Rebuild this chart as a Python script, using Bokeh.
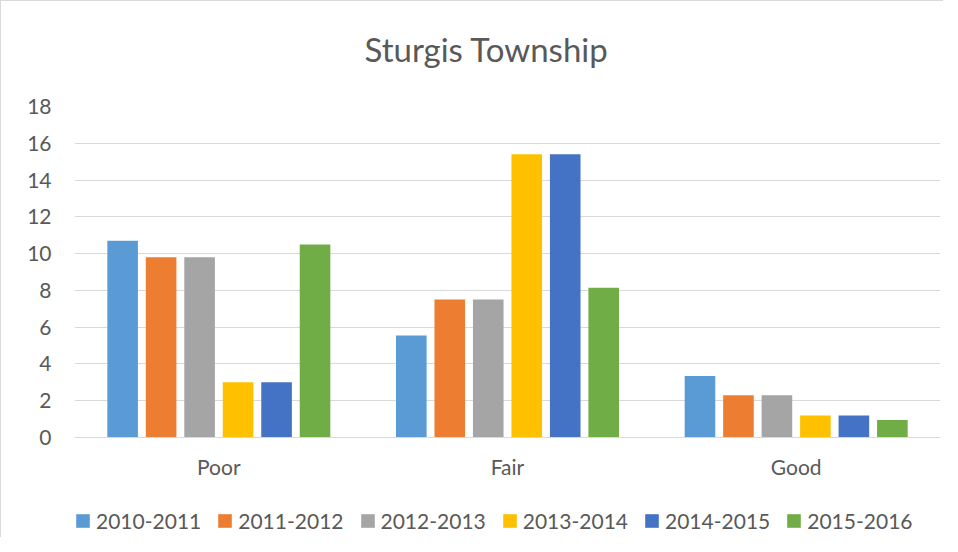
from bokeh.plotting import figure
from bokeh.layouts import column
from bokeh.models import ColumnDataSource, FactorRange, Range1d, Legend, LegendItem, FixedTicker, Title
from bokeh.transform import dodge
from bokeh.embed import file_html
from bokeh.resources import INLINE

categories = ["Poor", "Fair", "Good"]
series = ["2010-2011", "2011-2012", "2012-2013", "2013-2014", "2014-2015", "2015-2016"]
v_2010_2011 = [10.7, 5.55, 3.35]
v_2011_2012 = [9.8, 7.5, 2.3]
v_2012_2013 = [9.8, 7.5, 2.3]
v_2013_2014 = [3.0, 15.4, 1.2]
v_2014_2015 = [3.0, 15.4, 1.2]
v_2015_2016 = [10.5, 8.15, 0.95]
colors = ["#5B9BD5", "#ED7D31", "#A5A5A5", "#FFC000", "#4472C4", "#70AD47"]
y_ticks = [0, 2, 4, 6, 8, 10, 12, 14, 16, 18]

values = [v_2010_2011, v_2011_2012, v_2012_2013, v_2013_2014, v_2014_2015, v_2015_2016]
data = {"cat": categories}
for s, v in zip(series, values):
    data[s] = v
source = ColumnDataSource(data)

FONT = "Lato"
TXT = "#595959"
FS = "21px"

# main chart
xr = FactorRange(*categories, range_padding=0)
p = figure(x_range=xr, y_range=Range1d(0, 18),
           width=942, height=484, output_backend="svg", toolbar_location=None,
           min_border_left=73, min_border_right=3, min_border_top=105, min_border_bottom=48)

step = 0.1333
bw = 0.106
for i, (s, c) in enumerate(zip(series, colors)):
    p.vbar(x=dodge("cat", (i - 2.5) * step, range=xr), top=s, width=bw,
           source=source, fill_color=c, line_color=None)

# blank spacer between the frame and the title
p.add_layout(Title(text=" ", text_font_size="1px", standoff=30), "above")

p.title.text = "Sturgis Township"
p.title.text_font = FONT
p.title.text_font_size = "33px"
p.title.text_font_style = "normal"
p.title.text_color = TXT
p.title.align = "left"
p.title.offset = 290
p.title.standoff = 10

p.yaxis.ticker = FixedTicker(ticks=y_ticks)
p.yaxis.axis_line_color = None
p.yaxis.major_tick_line_color = None
p.yaxis.minor_tick_line_color = None
p.yaxis.major_label_text_font = FONT
p.yaxis.major_label_text_font_size = FS
p.yaxis.major_label_text_color = TXT
p.yaxis.major_label_standoff = 17

p.xaxis.axis_line_color = "#D9D9D9"
p.xaxis.major_tick_line_color = None
p.xaxis.minor_tick_line_color = None
p.xaxis.major_label_text_font = FONT
p.xaxis.major_label_text_font_size = FS
p.xaxis.major_label_text_color = TXT
p.xaxis.major_label_standoff = 10

p.xgrid.grid_line_color = None
p.ygrid.grid_line_color = "#D9D9D9"
p.ygrid.ticker = FixedTicker(ticks=y_ticks)
p.outline_line_color = None

# legend strip: same series drawn out of view (clipped), only its legend shows
p2 = figure(x_range=xr, y_range=Range1d(100, 101), width=942, height=52,
            output_backend="svg", toolbar_location=None,
            min_border_left=73, min_border_right=3, min_border_top=0, min_border_bottom=0,
            x_axis_type=None, y_axis_type=None)
p2.xgrid.visible = False
p2.ygrid.visible = False
p2.outline_line_color = None
items = []
for i, (s, c) in enumerate(zip(series, colors)):
    r = p2.vbar(x=dodge("cat", (i - 2.5) * step, range=xr), top=s, width=bw,
                source=source, fill_color=c, line_color=None)
    items.append(LegendItem(label=s, renderers=[r]))

legend = Legend(items=items, orientation="horizontal", location=(0, 4),
                label_text_font=FONT, label_text_font_size=FS, label_text_color=TXT,
                glyph_width=17, glyph_height=17, label_standoff=5, spacing=15,
                border_line_color=None, background_fill_alpha=0, margin=0, padding=4)
p2.add_layout(legend)

layout = column(p, p2, spacing=0)
layout.styles = {"border-left": "1px solid #D9D9D9", "border-top": "1px solid #D9D9D9"}

open("out.html", "w").write(file_html(layout, INLINE))
